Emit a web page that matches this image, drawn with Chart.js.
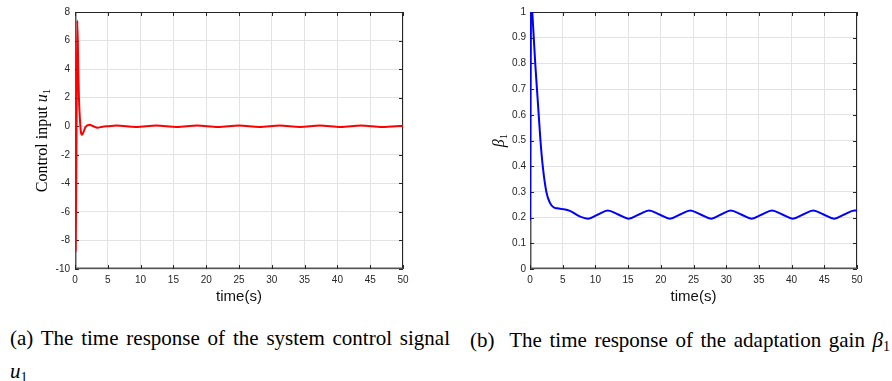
<!DOCTYPE html>
<html>
<head>
<meta charset="utf-8">
<script src="https://cdn.jsdelivr.net/npm/chart.js@4.4.0/dist/chart.umd.min.js"></script>
<style>
  html, body { margin: 0; padding: 0; background: #fff; }
  body { width: 892px; height: 381px; position: relative; overflow: hidden; }
  .box { position: absolute; top: 0; width: 446px; height: 310px; }
  .cap { position: absolute; font-family: "Liberation Serif", "Times New Roman", serif;
         font-size: 21px; line-height: 20px; color: #000; white-space: nowrap; }
  .just { text-align: justify; text-align-last: justify; white-space: normal; }
  .cap i { font-style: italic; }
  .cap sub { font-size: 14px; vertical-align: -4px; line-height: 0; }
</style>
</head>
<body>
<div class="box" style="left:0"><canvas id="stageU"></canvas></div>
<div class="box" style="left:446px"><canvas id="stageB"></canvas></div>

<div class="cap just" style="left:10px; top:328px; width:440px;">(a) The time response of the system control signal</div>
<div class="cap" style="left:10px; top:361px;"><i>u</i><sub>1</sub></div>
<div class="cap just" style="left:470px; top:330px; width:420px;">(b)&nbsp; The time response of the adaptation gain <i>β</i><sub>1</sub></div>

<script>
// 時間軸の目盛り
const timeTicks = [0, 5, 10, 15, 20, 25, 30, 35, 40, 45, 50];

// (a) 制御入力 u1
const uTime  = [0, 0.04, 0.1, 0.2, 0.35, 0.5, 0.6, 0.75, 0.9, 1.06, 1.3, 1.6, 2.2, 2.8, 3.4, 4.2, 5.0,
                6.3, 9.3, 12.4, 15.5, 18.6, 21.8, 25.0, 28.1, 31.2, 34.3, 37.3, 40.5, 43.6, 46.8, 50];
const uValue = [0, -4.2, -8.7, -3.0, 7.4, 4.0, 2.0, 0.5, -0.4, -0.6, -0.4, -0.05, 0.1, 0.0, -0.1, -0.03, 0.0,
                0.05, -0.05, 0.05, -0.05, 0.05, -0.05, 0.05, -0.05, 0.05, -0.05, 0.05, -0.05, 0.05, -0.05, 0.04];

// (b) 適応ゲイン beta1
const betaTime  = [0, 0.05, 0.2, 0.35, 0.8, 1.2, 1.6, 1.95, 2.5, 3.05, 3.6, 4.2, 5.0, 6.1, 7.6, 8.9,
                   10.4, 11.9, 13.5, 15.1, 16.65, 18.2, 19.8, 21.4, 22.95, 24.5, 26.1, 27.7, 29.2, 30.7,
                   32.3, 33.9, 35.45, 37.0, 38.6, 40.2, 41.75, 43.3, 44.9, 46.5, 48.05, 49.6, 50];
const betaValue = [0.19, 0.6, 1.08, 1.0, 0.8, 0.65, 0.5, 0.4, 0.3, 0.257, 0.24, 0.236, 0.233, 0.226, 0.205, 0.196,
                   0.212, 0.228, 0.212, 0.196, 0.212, 0.228, 0.212, 0.196, 0.212, 0.228, 0.212, 0.196, 0.212, 0.228,
                   0.212, 0.196, 0.212, 0.228, 0.212, 0.196, 0.212, 0.228, 0.212, 0.196, 0.212, 0.228, 0.227];

const SANS = '"Liberation Sans", Arial, Helvetica, sans-serif';
const SERIF = '"Liberation Serif", "Times New Roman", serif';

function toPoints(xs, ys) {
    return xs.map((x, i) => ({ x: x, y: ys[i] }));
}

// 枠線と内向きの目盛り線 (MATLAB風)
const framePlugin = {
    id: 'frame',
    beforeDatasetsDraw(chart) {
        const { ctx, chartArea: a, scales } = chart;
        ctx.save();
        ctx.strokeStyle = '#262626';
        ctx.lineWidth = 1;
        ctx.strokeRect(a.left + 0.5, a.top + 0.5, a.right - a.left - 1, a.bottom - a.top - 1);
        // 左と下の軸は少し太め
        ctx.strokeStyle = '#555';
        ctx.lineWidth = 1.5;
        ctx.beginPath();
        ctx.moveTo(a.left + 0.75, a.top); ctx.lineTo(a.left + 0.75, a.bottom - 0.75); ctx.lineTo(a.right, a.bottom - 0.75);
        ctx.stroke();
        ctx.strokeStyle = '#262626';
        ctx.lineWidth = 1;
        ctx.beginPath();
        for (const t of scales.x.ticks) {
            const px = Math.round(scales.x.getPixelForValue(t.value)) + 0.5;
            ctx.moveTo(px, a.bottom); ctx.lineTo(px, a.bottom - 4);
            ctx.moveTo(px, a.top); ctx.lineTo(px, a.top + 4);
        }
        for (const t of scales.y.ticks) {
            const py = Math.round(scales.y.getPixelForValue(t.value)) + 0.5;
            ctx.moveTo(a.left, py); ctx.lineTo(a.left + 4, py);
            ctx.moveTo(a.right, py); ctx.lineTo(a.right - 4, py);
        }
        ctx.stroke();
        ctx.restore();
    }
};

// 縦軸タイトル (斜体・下付き文字を混ぜる)
const yTitlePlugin = {
    id: 'ytitle',
    afterDraw(chart, args, opts) {
        const { ctx, chartArea: a } = chart;
        const parts = opts.parts || [];
        ctx.save();
        let total = 0;
        for (const p of parts) { ctx.font = p.font; p.w = ctx.measureText(p.text).width; total += p.w; }
        ctx.translate(opts.x, (a.top + a.bottom) / 2);
        ctx.rotate(-Math.PI / 2);
        ctx.fillStyle = '#000';
        ctx.textBaseline = 'alphabetic';
        let cx = -total / 2;
        for (const p of parts) {
            ctx.font = p.font;
            ctx.fillText(p.text, cx, 5 + (p.dy || 0));
            cx += p.w;
        }
        ctx.restore();
    }
};

function makeChart(id, xs, ys, color, yMin, yMax, yStep, pad, yWidth, yTickPad, titleParts, titleX) {
    const canvas = document.getElementById(id);
    const existing = Chart.getChart(canvas);
    if (existing) existing.destroy();

    return new Chart(canvas, {
        type: 'line',
        data: {
            datasets: [{
                data: toPoints(xs, ys),
                borderColor: color,
                borderWidth: 2,
                pointRadius: 0,
                fill: false,
                cubicInterpolationMode: 'monotone'
            }]
        },
        options: {
            responsive: false,
            animation: false,
            devicePixelRatio: 1,
            layout: { padding: pad },
            plugins: {
                legend: { display: false },
                tooltip: { enabled: false },
                ytitle: { parts: titleParts, x: titleX }
            },
            scales: {
                x: {
                    type: 'linear',
                    min: 0, max: 50,
                    afterBuildTicks: (s) => { s.ticks = timeTicks.map(v => ({ value: v })); },
                    afterFit: (s) => { s.height = 310 - pad.bottom - 269; },
                    grid: { color: '#e3e3e3', drawTicks: false },
                    border: { display: false },
                    ticks: { color: '#262626', padding: 5, font: { family: SANS, size: 10 }, maxRotation: 0 },
                    title: { display: true, text: 'time(s)', color: '#111', padding: 0,
                             font: { family: SANS, size: 15, lineHeight: 1.2 } }
                },
                y: {
                    min: yMin, max: yMax,
                    ticks: {
                        stepSize: yStep, color: '#262626', padding: yTickPad,
                        font: { family: SANS, size: 10 },
                        callback: (v) => String(Math.round(v * 10) / 10)
                    },
                    afterFit: (s) => { s.width = yWidth; },
                    grid: { color: '#e3e3e3', drawTicks: false },
                    border: { display: false }
                }
            }
        },
        plugins: [framePlugin, yTitlePlugin]
    });
}

for (const c of document.querySelectorAll('canvas')) { c.width = 446; c.height = 310; }

makeChart('stageU', uTime, uValue, '#ff0000', -10, 8, 2,
    { left: 33, top: 12, right: 43, bottom: 4 }, 42, 5,
    [{ text: 'Control input ', font: '16px ' + SERIF },
     { text: 'u', font: 'italic 16px ' + SERIF },
     { text: '1', font: '11px ' + SERIF, dy: 3 }], 42);

makeChart('stageB', betaTime, betaValue, '#0000ff', 0, 1, 0.1,
    { left: 45, top: 12, right: 35, bottom: 4 }, 39, 4,
    [{ text: 'β', font: 'italic 16px ' + SERIF },
     { text: '1', font: '11px ' + SERIF, dy: 3 }], 53);
</script>
</body>
</html>
